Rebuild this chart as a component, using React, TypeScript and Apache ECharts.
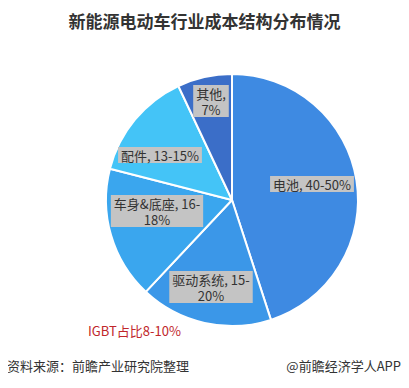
import React, { useEffect, useRef } from "react";
import * as echarts from "echarts";

const categories = ["电池", "驱动系统", "车身&底座", "配件", "其他"];
const values = [45, 17, 17, 14, 7];
const labelTexts = ["电池, 40-50%", "驱动系统, 15-\n20%", "车身&底座, 16-\n18%", "配件, 13-15%", "其他,\n7%"];
const colors = ["#3e8ae2", "#3b97e8", "#3aa6ee", "#44c4f7", "#3b6ec8"];
const labelPos = [[312, 184], [211, 287], [157, 211], [160, 155], [211, 101]];

export default function App() {
  const ref = useRef<HTMLDivElement>(null);
  useEffect(() => {
    const chart = echarts.init(ref.current!, null, { renderer: "svg" });
    const font = "'Noto Sans CJK SC', 'Microsoft YaHei', sans-serif";
    chart.setOption({
      animation: false,
      backgroundColor: "#ffffff",
      title: {
        text: "新能源电动车行业成本结构分布情况",
        left: "center",
        top: 7,
        textStyle: { fontSize: 17, fontWeight: "bold", color: "#333", fontFamily: font },
      },
      graphic: [
        { type: "text", left: 88, top: 324, style: { text: "IGBT占比8-10%", fill: "#c0262b", font: `13px ${font}` } },
        { type: "text", left: 7, top: 359, style: { text: "资料来源：前瞻产业研究院整理", fill: "#333", font: `13px ${font}` } },
        { type: "text", right: 8, top: 359, style: { text: "@前瞻经济学人APP", fill: "#333", font: `13px ${font}` } },
      ],
      series: [
        {
          type: "pie",
          center: [232, 200],
          radius: 126,
          startAngle: 90,
          clockwise: true,
          itemStyle: { borderColor: "#fff", borderWidth: 2 },
          label: {
            show: true,
            position: "inside",
            formatter: (p: any) => labelTexts[p.dataIndex],
            color: "#333",
            fontSize: 13,
            fontFamily: font,
            lineHeight: 16,
            backgroundColor: "#c4c4c4",
            padding: [0, 3],
            align: "center",
          },
          labelLine: { show: false },
          labelLayout: (p: any) => ({ x: labelPos[p.dataIndex][0], y: labelPos[p.dataIndex][1], align: "center", verticalAlign: "middle" }),
          data: categories.map((c, i) => ({ name: c, value: values[i], itemStyle: { color: colors[i] } })),
        },
      ],
    });
    return () => chart.dispose();
  }, []);
  return <div ref={ref} style={{ width: 409, height: 388, margin: -8 }} />;
}
